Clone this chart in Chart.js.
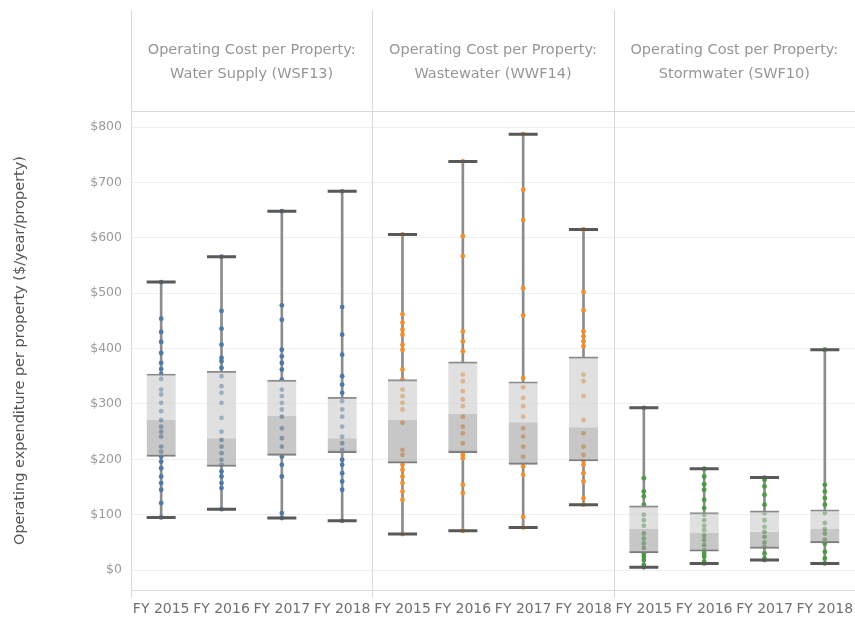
<!DOCTYPE html>
<html>
<head>
<meta charset="utf-8">
<script src="https://cdn.jsdelivr.net/npm/chart.js@4"></script>
<style>
  html, body { margin: 0; padding: 0; background: #fff; }
  #wrap { width: 855px; height: 617px; position: relative; }
</style>
</head>
<body>
<div id="wrap"><canvas id="chart"></canvas></div>
<script>
const years = ["FY 2015", "FY 2016", "FY 2017", "FY 2018"];
const panelCodes = ["WSF13", "WWF14", "SWF10"];
const panelTitles = [
  ["Operating Cost per Property:", "Water Supply (WSF13)"],
  ["Operating Cost per Property:", "Wastewater (WWF14)"],
  ["Operating Cost per Property:", "Stormwater (SWF10)"]
];
const panelColors = ["#4e79a7", "#f28e2b", "#4a9a44"];
const yTicks = [0, 100, 200, 300, 400, 500, 600, 700, 800];

// box stats, 12 entries: 4 years x 3 panels
const whiskerLow  = [95, 110, 94, 89,    65, 71, 77, 118,    5, 12, 18, 12];
const boxQ1       = [205, 187, 207, 212, 193, 212, 191, 197, 31, 34, 39, 49];
const boxMedian   = [271, 238, 279, 238, 271, 282, 267, 258, 74, 68, 69, 74];
const boxQ3       = [354, 359, 343, 312, 344, 376, 340, 385, 116, 104, 107, 109];
const whiskerHigh = [520, 566, 648, 684, 606, 738, 787, 615, 293, 183, 167, 398];

// individual council values
const waterPoints = [
  [520, 454, 430, 412, 392, 374, 363, 354, 345, 326, 317, 302, 287, 271, 259, 250, 241, 223, 214, 205, 196, 184, 169, 157, 145, 121, 95],
  [566, 468, 436, 407, 383, 377, 365, 350, 332, 320, 302, 275, 250, 235, 223, 211, 199, 190, 178, 169, 157, 148, 110],
  [648, 478, 452, 398, 386, 374, 362, 344, 326, 314, 302, 290, 277, 256, 238, 223, 205, 190, 169, 103, 94],
  [684, 475, 425, 389, 350, 335, 320, 305, 290, 277, 259, 241, 229, 217, 199, 190, 175, 160, 145, 89]
];
const wastewaterPoints = [
  [606, 462, 447, 434, 425, 407, 398, 362, 344, 326, 314, 302, 290, 266, 217, 208, 190, 181, 169, 157, 142, 127, 65],
  [738, 603, 567, 431, 413, 395, 353, 341, 323, 308, 296, 277, 259, 247, 229, 212, 208, 202, 154, 139, 71],
  [787, 687, 632, 509, 460, 347, 330, 311, 296, 277, 256, 241, 223, 205, 187, 172, 96, 77],
  [615, 502, 469, 431, 422, 413, 404, 353, 341, 314, 271, 247, 223, 208, 197, 190, 175, 160, 130, 118]
];
const stormwaterPoints = [
  [293, 166, 142, 133, 118, 100, 90, 80, 66, 57, 48, 40, 30, 24, 18, 9, 5],
  [183, 169, 155, 145, 127, 112, 100, 90, 80, 72, 62, 54, 45, 36, 30, 24, 15, 12],
  [167, 163, 151, 136, 118, 103, 90, 78, 69, 60, 50, 42, 30, 21, 18],
  [398, 154, 142, 130, 118, 103, 85, 74, 66, 55, 48, 33, 21, 12]
];
const allPoints = [waterPoints, wastewaterPoints, stormwaterPoints];

const labels = [];
panelCodes.forEach((code) => years.forEach((y) => labels.push(code + "|" + y)));

const pointDatasets = allPoints.map((panel, p) => ({
  type: "line",
  label: panelCodes[p],
  data: panel.flatMap((vals, yi) => vals.map((v) => ({ x: panelCodes[p] + "|" + years[yi], y: v }))),
  showLine: false,
  pointRadius: 2.4,
  pointBackgroundColor: panelColors[p],
  pointBorderColor: panelColors[p],
  pointBorderWidth: 0,
  order: 2
}));

const FONT = "'DejaVu Sans', sans-serif";

const panelPlugin = {
  id: "panels",
  beforeDatasetsDraw(chart) {
    const { ctx, chartArea, scales } = chart;
    const sx = scales.x;
    ctx.save();
    ctx.strokeStyle = "#d9d9d9";
    ctx.lineWidth = 1;
    // header bottom line and axis bottom line
    ctx.beginPath();
    ctx.moveTo(chartArea.left, Math.round(chartArea.top) + 0.5);
    ctx.lineTo(chartArea.right, Math.round(chartArea.top) + 0.5);
    ctx.moveTo(chartArea.left, Math.round(chartArea.bottom) + 0.5);
    ctx.lineTo(chartArea.right, Math.round(chartArea.bottom) + 0.5);
    ctx.stroke();
    // panel separators
    for (let p = 0; p < panelCodes.length; p++) {
      const x = p === 0 ? chartArea.left
        : (sx.getPixelForValue(p * 4 - 1) + sx.getPixelForValue(p * 4)) / 2;
      ctx.beginPath();
      ctx.moveTo(Math.round(x) + 0.5, 10);
      ctx.lineTo(Math.round(x) + 0.5, chartArea.bottom + 8);
      ctx.stroke();
    }
    // headers
    ctx.fillStyle = "#969696";
    ctx.font = "14.5px " + FONT;
    ctx.textAlign = "center";
    ctx.textBaseline = "middle";
    panelTitles.forEach((lines, p) => {
      const cx = (sx.getPixelForValue(p * 4 + 1) + sx.getPixelForValue(p * 4 + 2)) / 2;
      ctx.fillText(lines[0], cx, 50);
      ctx.fillText(lines[1], cx, 74);
    });
    ctx.restore();
  }
};

new Chart(document.getElementById("chart"), {
  type: "bar",
  data: {
    labels,
    datasets: [
      // whisker caps
      {
        type: "line", label: "max", data: whiskerHigh, showLine: false,
        pointStyle: "line", pointRadius: 14.5, pointBorderWidth: 3,
        pointBorderColor: "#595959", order: 0
      },
      {
        type: "line", label: "min", data: whiskerLow, showLine: false,
        pointStyle: "line", pointRadius: 14.5, pointBorderWidth: 3,
        pointBorderColor: "#595959", order: 0
      },
      // box halves
      {
        label: "upper", data: boxMedian.map((m, i) => [m, boxQ3[i]]),
        backgroundColor: "rgba(205,205,205,0.62)", borderColor: "#8a8a8a",
        borderWidth: { top: 1.5, bottom: 0, left: 0, right: 0 }, borderSkipped: false,
        barThickness: 29, grouped: false, order: 1
      },
      {
        label: "lower", data: boxQ1.map((q, i) => [q, boxMedian[i]]),
        backgroundColor: "rgba(165,165,165,0.62)", borderColor: "#7a7a7a",
        borderWidth: { top: 0, bottom: 1.5, left: 0, right: 0 }, borderSkipped: false,
        barThickness: 29, grouped: false, order: 1
      },
      ...pointDatasets,
      // whisker stems
      {
        label: "stemLow", data: whiskerLow.map((w, i) => [w, boxQ1[i]]),
        backgroundColor: "#8c8c8c", barThickness: 2, grouped: false, order: 3
      },
      {
        label: "stemHigh", data: whiskerHigh.map((w, i) => [boxQ3[i], w]),
        backgroundColor: "#8c8c8c", barThickness: 2, grouped: false, order: 3
      }
    ]
  },
  options: {
    responsive: true,
    maintainAspectRatio: false,
    animation: false,
    layout: { autoPadding: false, padding: { top: 111, right: 0, left: 0, bottom: 0 } },
    plugins: { legend: { display: false }, tooltip: { enabled: false } },
    scales: {
      x: {
        type: "category",
        offset: true,
        grid: { display: false },
        border: { display: false },
        ticks: {
          color: "#707070",
          font: { family: FONT, size: 14 },
          padding: 3,
          maxRotation: 0,
          autoSkip: false,
          callback: (v, i) => years[i % 4]
        },
        afterFit: (s) => { s.height = 27; s.paddingLeft = 0; s.paddingRight = 0; }
      },
      y: {
        min: -36,
        max: 829,
        afterBuildTicks: (s) => { s.ticks = yTicks.map((v) => ({ value: v })); },
        grid: { color: "#f0f0f0", drawTicks: false },
        border: { display: false },
        ticks: {
          color: "#9a9a9a",
          font: { family: FONT, size: 12.5 },
          padding: 9,
          callback: (v) => "$" + v
        },
        title: {
          display: true,
          text: "Operating expenditure per property ($/year/property)",
          color: "#555555",
          font: { family: FONT, size: 14.5 },
          padding: { top: 12, bottom: 0 }
        },
        afterFit: (s) => { s.width = 131; }
      }
    }
  },
  plugins: [panelPlugin]
});
</script>
</body>
</html>
